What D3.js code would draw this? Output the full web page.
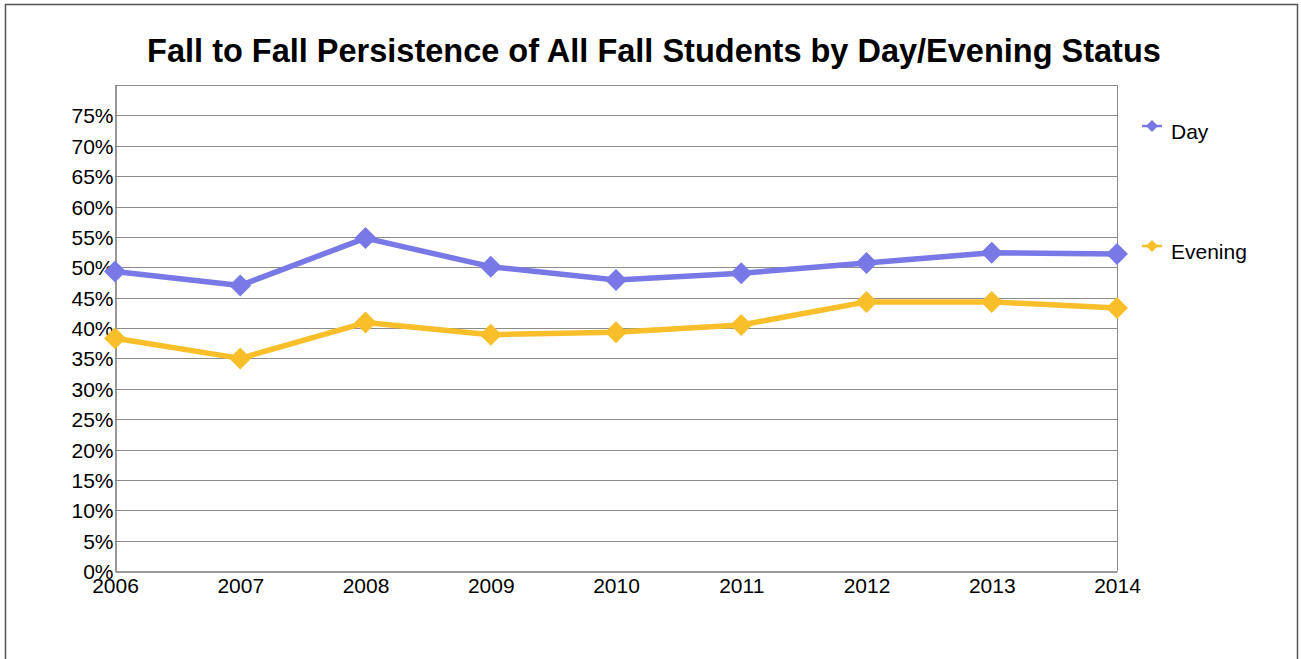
<!DOCTYPE html>
<html><head><meta charset="utf-8">
<script src="https://cdn.jsdelivr.net/npm/d3@7"></script>
<style>body{margin:0;background:#fff}svg{display:block}text{font-family:"Liberation Sans",Arial,sans-serif}</style>
</head><body>
<svg id="c" width="1301" height="659"></svg>
<script>
const years = ["2006","2007","2008","2009","2010","2011","2012","2013","2014"];
const dayValues = [49.3,47.0,54.8,50.1,47.9,49.0,50.7,52.4,52.2];
const eveningValues = [38.3,35.0,40.9,38.9,39.3,40.5,44.3,44.3,43.3];
const yTicks = [0,5,10,15,20,25,30,35,40,45,50,55,60,65,70,75];
const seriesNames = ["Day","Evening"];
const seriesColors = ["#7878e6","#f8bf2a"];
const title = "Fall to Fall Persistence of All Fall Students by Day/Evening Status";

const svg = d3.select("#c");
svg.append("rect").attr("x",5.5).attr("y",4.5).attr("width",1292).attr("height",700)
  .attr("fill","none").attr("stroke","#555").attr("stroke-width",1.5);

const L=115, R=1117, T=85, B=571;
const x = d3.scalePoint().domain(years).range([L,R]);
const y = d3.scaleLinear().domain([0,80]).range([B,T]);

svg.append("text").attr("x",654).attr("y",62).attr("text-anchor","middle")
  .attr("font-size",32.5).attr("font-weight","bold").attr("fill","#000").text(title);

// gridlines
svg.append("g").selectAll("line").data(yTicks.filter(d=>d>0)).join("line")
  .attr("x1",L).attr("x2",R).attr("y1",d=>Math.round(y(d))+0.5).attr("y2",d=>Math.round(y(d))+0.5)
  .attr("stroke","#8c8c8c").attr("stroke-width",1);
// plot frame
svg.append("line").attr("x1",L).attr("x2",R).attr("y1",T+0.5).attr("y2",T+0.5).attr("stroke","#8c8c8c");
svg.append("line").attr("x1",R+0.5).attr("x2",R+0.5).attr("y1",T).attr("y2",B).attr("stroke","#8c8c8c");

// axes
const yAxis = d3.axisLeft(y).tickValues(yTicks).tickFormat(d=>d+"%").tickSize(0).tickPadding(2);
const gy = svg.append("g").attr("transform",`translate(${L+0.5},0)`).call(yAxis);
gy.select(".domain").attr("stroke","#777").attr("stroke-width",1.5);
gy.selectAll("text").attr("font-size",21).attr("dy","0.36em").attr("fill","#000").attr("font-family","Liberation Sans, Arial, sans-serif");

const xAxis = d3.axisBottom(x).tickSize(0).tickPadding(7);
const gx = svg.append("g").attr("transform",`translate(0,${B+0.5})`).call(xAxis);
gx.select(".domain").attr("stroke","#777").attr("stroke-width",1.5);
gx.selectAll("text").attr("font-size",21).attr("fill","#000").attr("font-family","Liberation Sans, Arial, sans-serif");

const data = [dayValues, eveningValues];
const line = d3.line().x((d,i)=>x(years[i])).y(d=>y(d));
const diamond = s => `M0,${-s}L${s},0L0,${s}L${-s},0Z`;

data.forEach((vals,k)=>{
  svg.append("path").datum(vals).attr("d",line).attr("fill","none")
    .attr("stroke",seriesColors[k]).attr("stroke-width",5.5).attr("stroke-linejoin","round");
  svg.append("g").selectAll("path").data(vals).join("path")
    .attr("transform",(d,i)=>`translate(${x(years[i])},${y(d)})`)
    .attr("d",diamond(11)).attr("fill",seriesColors[k]);
});

// legend
const legY = [126,246];
seriesNames.forEach((n,k)=>{
  const g = svg.append("g").attr("transform",`translate(1152,${legY[k]})`);
  g.append("line").attr("x1",-10).attr("x2",10).attr("stroke",seriesColors[k]).attr("stroke-width",2.5);
  g.append("path").attr("d",diamond(6)).attr("fill",seriesColors[k]);
  g.append("text").attr("x",19).attr("y",12.5).attr("font-size",21).attr("fill","#000").text(n);
});
</script>
</body></html>
